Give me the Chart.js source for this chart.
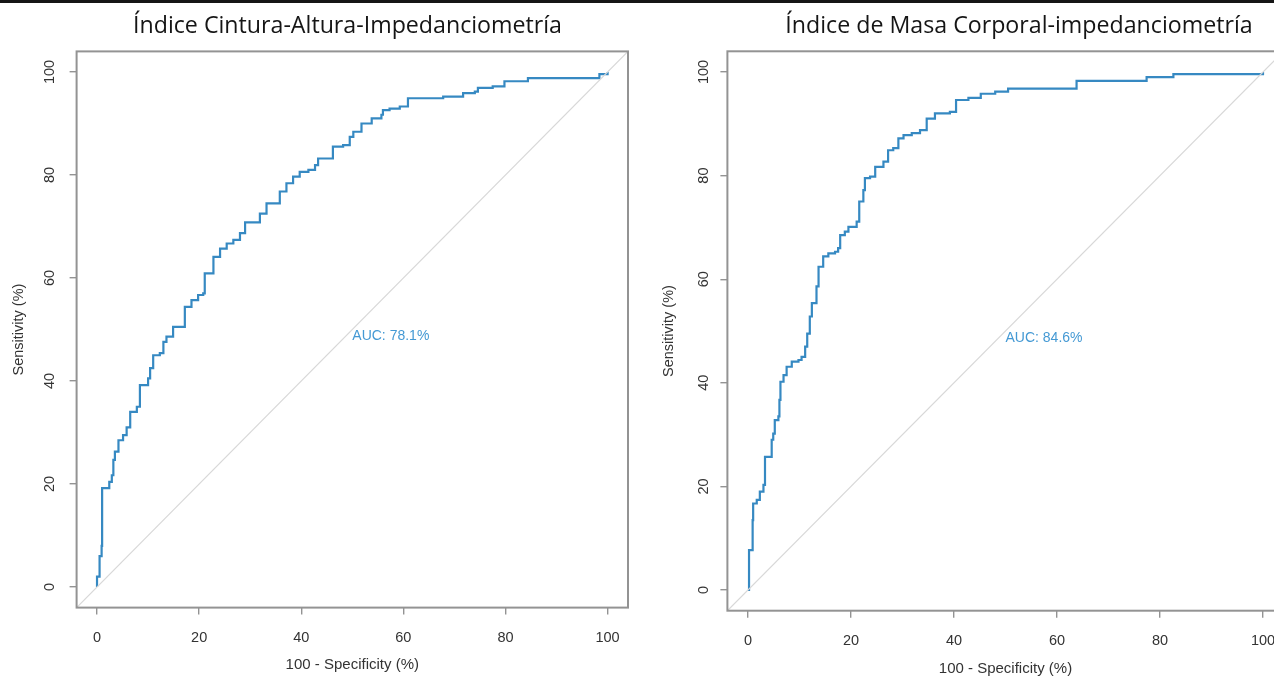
<!DOCTYPE html>
<html>
<head>
<meta charset="utf-8">
<script src="https://cdn.jsdelivr.net/npm/chart.js@4.4.1/dist/chart.umd.min.js"></script>
<style>
  html, body { margin: 0; padding: 0; background: #fff; overflow: hidden; }
  body { width: 1274px; height: 678px; position: relative; }
  .topline { position: absolute; left: 0; top: 0; width: 1274px; height: 3px; background: #151515; }
  canvas { position: absolute; top: 0; }
  #left { left: 0; }
  #right { left: 645px; }
</style>
</head>
<body>
<div class="topline"></div>
<canvas id="left" width="695" height="678"></canvas>
<canvas id="right" width="748" height="678"></canvas>
<script>
// axis ticks (percent)
const tickVals = [0, 20, 40, 60, 80, 100]

// Índice Cintura-Altura: 100 - specificity / sensitivity
const icaX = [0, 0, 0.5, 0.9, 1, 2.4, 2.9, 3.2, 3.5, 4.2, 5.1, 5.8, 6.5, 7.8, 8.4, 10, 10.4, 11, 12.3, 13, 13.6, 14.9, 17.2, 18.5, 19.8, 20.8, 21.1, 22.8, 24.1, 25.4, 26.7, 28, 29, 31.9, 33.2, 35.8, 37.1, 38.4, 39.7, 41.4, 42.7, 43.3, 46.2, 48.2, 49.5, 50.2, 51.8, 53.8, 55.7, 56, 57.3, 59.3, 60.9, 67.8, 71.7, 74, 74.6, 77.5, 79.8, 84.4, 98.4, 100]
const icaY = [0, 2, 6, 8, 19.2, 20.4, 21.7, 24.7, 26.3, 28.5, 29.5, 31, 34, 35, 39.2, 40.5, 42.5, 45, 45.4, 47.6, 48.6, 50.5, 54.4, 55.7, 56.7, 57, 60.9, 64.1, 65.7, 66.7, 67.4, 68.7, 70.8, 72.5, 74.5, 76.8, 78.4, 79.7, 80.6, 81, 81.9, 83.2, 85.5, 85.8, 87.4, 88.4, 90, 91, 91.7, 92.6, 92.9, 93.3, 94.9, 95.2, 95.9, 96.2, 96.9, 97.2, 98.2, 98.8, 99.6, 100]

// Índice de Masa Corporal
const imcX = [0, 0.2, 0.9, 1, 1.7, 2.3, 3, 3.3, 4.6, 4.9, 5.2, 5.9, 6.1, 6.3, 6.9, 7.5, 8.5, 9.8, 10.4, 11.1, 11.5, 12, 12.4, 13.3, 13.7, 14.6, 15.6, 16.9, 17.5, 17.9, 18.8, 19.5, 21.1, 21.6, 22.4, 22.7, 23.7, 24.7, 26.3, 27.2, 28.2, 29.2, 30.2, 31.8, 33.4, 34.7, 36.3, 39.2, 40.4, 42.8, 45.2, 48, 50.5, 63.8, 77.4, 82.6, 100]
const imcY = [0, 7.7, 13.5, 16.7, 17.4, 19, 20.3, 25.7, 29, 30.2, 32.8, 33.5, 36.7, 40.2, 41.5, 43.1, 44.1, 44.4, 45, 47, 49.5, 52.8, 55.4, 58.6, 62.4, 64.4, 65, 65.3, 66, 68.5, 69.2, 70.1, 71.1, 75, 77.2, 79.5, 79.8, 81.7, 82.7, 84.9, 85.3, 87.2, 87.8, 88.2, 88.8, 91, 92, 92.3, 94.6, 95, 95.8, 96.2, 96.8, 98.3, 99, 99.6, 100]

const titles = ['Índice Cintura-Altura-Impedanciometría', 'Índice de Masa Corporal-impedanciometría']
const aucLabels = ['AUC: 78.1%', 'AUC: 84.6%']

const arial = '"Liberation Sans", Arial, sans-serif'
const tickFont = { family: arial, size: 14.5 }
const boxGray = '#939393'

// R-style box round the plot and the AUC text at (50, 50)
const rBox = {
  id: 'rbox',
  afterDatasetsDraw(chart, args, opts) {
    const { ctx, chartArea: a, scales: { x, y } } = chart
    ctx.save()
    ctx.strokeStyle = boxGray
    ctx.lineWidth = 2
    ctx.strokeRect(a.left, a.top, a.right - a.left, a.bottom - a.top)
    ctx.fillStyle = '#4499d4'
    ctx.font = '14px ' + arial
    ctx.textAlign = 'left'
    ctx.textBaseline = 'top'
    ctx.fillText(opts.text, x.getPixelForValue(50), y.getPixelForValue(50))
    ctx.restore()
  }
}

function rocChart(id, xs, ys, title, auc, lay) {
  const pts = xs.map((v, i) => ({ x: v, y: ys[i] }))
  return new Chart(document.getElementById(id), {
    type: 'scatter',
    data: {
      datasets: [
        { data: [{ x: -4, y: -4 }, { x: 104, y: 104 }], showLine: true, borderColor: '#d8d8d8', borderWidth: 1.2, pointRadius: 0 },
        { data: pts, showLine: true, stepped: 'before', borderColor: '#3689c2', borderWidth: 2.2, pointRadius: 0 }
      ]
    },
    options: {
      responsive: false,
      animation: false,
      layout: { padding: 0 },
      plugins: {
        legend: { display: false },
        tooltip: { enabled: false },
        title: {
          display: true,
          text: title,
          color: '#151515',
          font: { family: '"Open Sans", Lato, sans-serif', size: 23.2, weight: 'normal' },
          padding: { top: 12.6, bottom: lay.top - 12.6 - 27.84 }
        },
        rbox: { text: auc }
      },
      scales: {
        x: {
          type: 'linear',
          min: -4,
          max: 104,
          afterBuildTicks: s => { s.ticks = tickVals.map(v => ({ value: v })) },
          afterFit: s => { s.height = lay.xh },
          border: { display: false },
          grid: { drawOnChartArea: false, drawTicks: true, tickLength: 7, color: boxGray, lineWidth: 1.4 },
          ticks: { autoSkip: false, maxRotation: 0, padding: lay.xtp, color: '#333', font: tickFont },
          title: { display: true, text: '100 - Specificity (%)', color: '#333', font: { family: arial, size: 15 }, padding: { top: 0, bottom: lay.xtb } }
        },
        y: {
          type: 'linear',
          min: -4,
          max: 104,
          afterBuildTicks: s => { s.ticks = tickVals.map(v => ({ value: v })) },
          afterFit: s => { s.width = lay.yw },
          border: { display: false },
          grid: { drawOnChartArea: false, drawTicks: true, tickLength: 7, color: boxGray, lineWidth: 1.4 },
          ticks: { autoSkip: false, minRotation: 90, maxRotation: 90, crossAlign: 'center', padding: lay.ytp, color: '#333', font: tickFont },
          title: { display: true, text: 'Sensitivity (%)', color: '#333', font: { family: arial, size: 14.5 }, padding: { top: lay.ytt, bottom: 0 } }
        },
        // empty right-hand space, so the title centres like the original
        pad: {
          type: 'linear',
          position: 'right',
          border: { display: false },
          grid: { display: false },
          ticks: { display: false },
          afterFit: s => { s.width = lay.padR }
        }
      }
    },
    plugins: [rBox]
  })
}

Chart.register(rBox)

rocChart('left', icaX, icaY, titles[0], aucLabels[0], { padR: 67, top: 51.4, yw: 76.6, xh: 70.4, xtp: 14.5, ytp: 8, ytt: 10.5, xtb: 4 })
rocChart('right', imcX, imcY, titles[1], aucLabels[1], { padR: 109.4, top: 51.3, yw: 82.4, xh: 67.3, xtp: 14.3, ytp: 4.7, ytt: 15, xtb: 0 })
</script>
</body>
</html>
